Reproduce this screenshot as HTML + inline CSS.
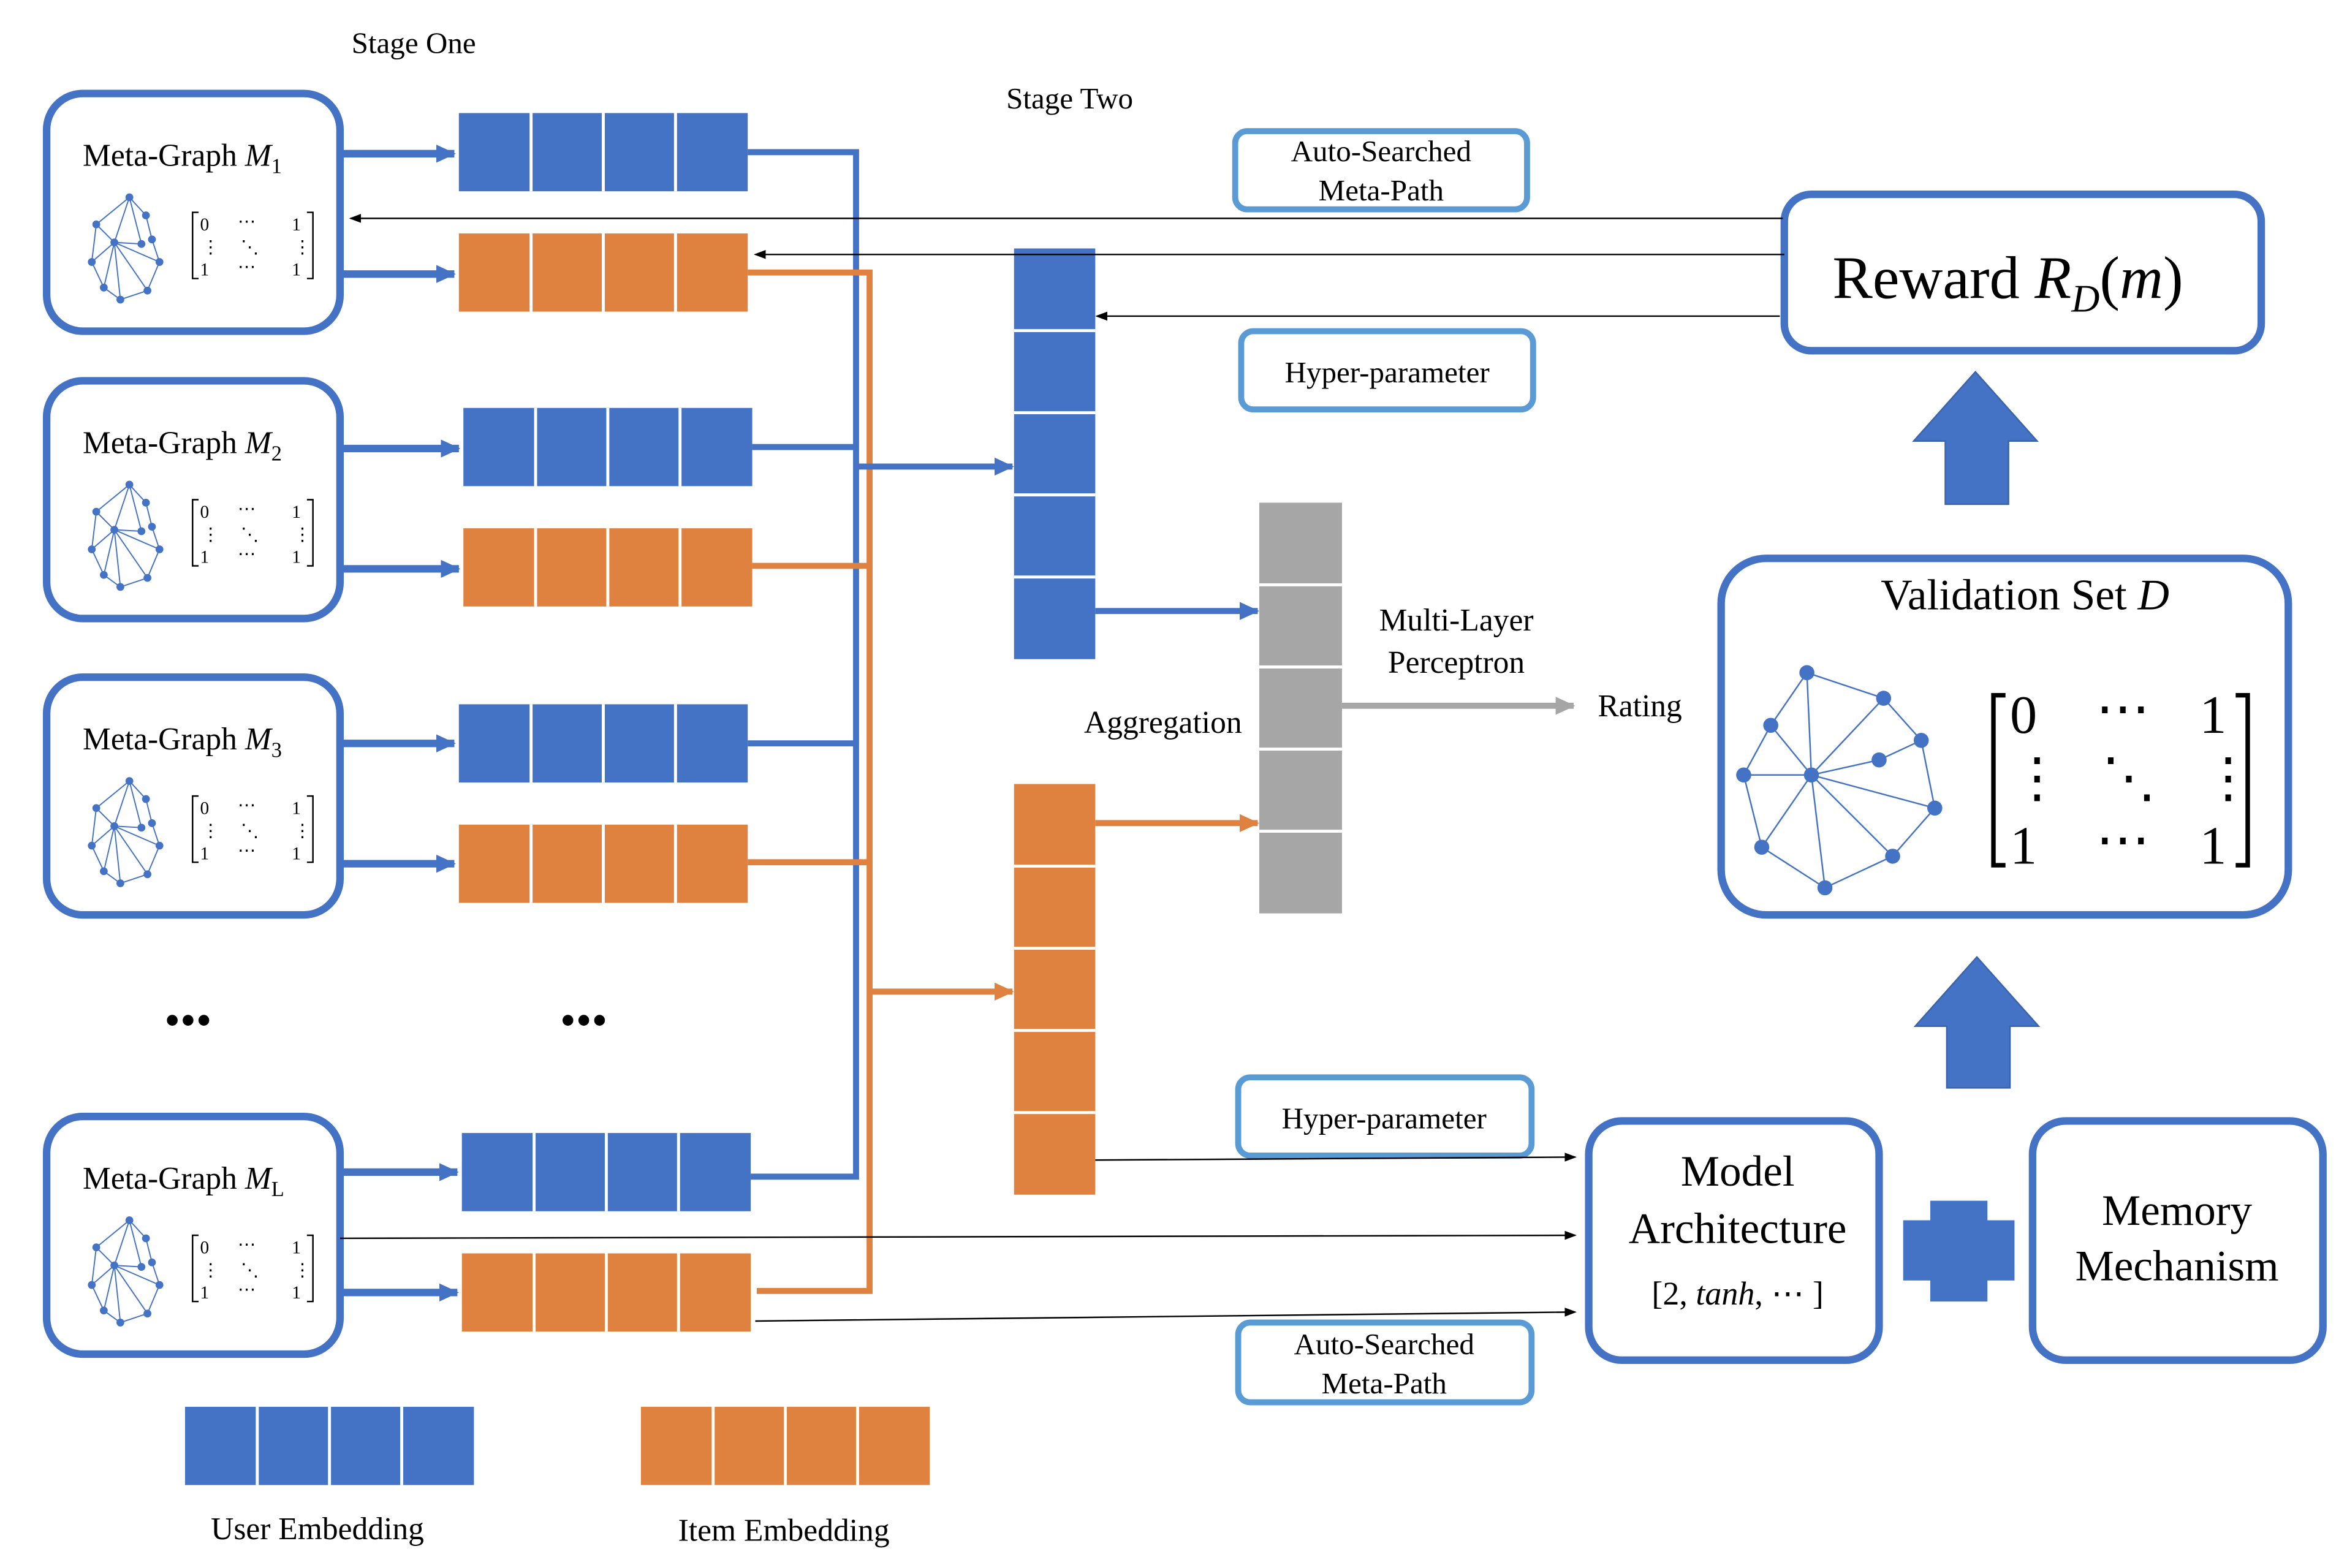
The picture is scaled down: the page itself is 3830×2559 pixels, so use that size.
<!DOCTYPE html>
<html><head><meta charset="utf-8"><style>
html,body{margin:0;padding:0;background:#fff}
svg{display:block}
text{font-family:"Liberation Serif",serif;fill:#000}
</style></head><body>
<svg width="3830" height="2559" viewBox="0 0 1560 1042" xmlns="http://www.w3.org/2000/svg">
<defs>
<marker id="ab" markerWidth="13" markerHeight="12" refX="12" refY="6" orient="auto" markerUnits="userSpaceOnUse"><path d="M0,0 L13,6 L0,12 Z" fill="#4472c4"/></marker>
<marker id="ao" markerWidth="13" markerHeight="12" refX="12" refY="6" orient="auto" markerUnits="userSpaceOnUse"><path d="M0,0 L13,6 L0,12 Z" fill="#e0823f"/></marker>
<marker id="ag" markerWidth="13" markerHeight="12" refX="12" refY="6" orient="auto" markerUnits="userSpaceOnUse"><path d="M0,0 L13,6 L0,12 Z" fill="#a6a6a6"/></marker>
<marker id="ak" markerWidth="8" markerHeight="6" refX="7" refY="3" orient="auto" markerUnits="userSpaceOnUse"><path d="M0,0 L8,3 L0,6 Z" fill="#000"/></marker>
<g id="gr" stroke="#4472c4" stroke-width="0.8" fill="#4472c4">
<path d="M22,0 L0,18 L-3,43 L5,60 L16,68 L34,62 L42,43 L37,28 L33,12 Z M22,0 L30,31 M0,18 L12,30 M12,30 L-3,43 M12,30 L22,0 M12,30 L30,31 M12,30 L42,43 M12,30 L16,68 M12,30 L34,62 M12,30 L5,60" fill="none"/>
<circle cx="22" cy="0" r="2.2"/><circle cx="0" cy="18" r="2.2"/><circle cx="-3" cy="43" r="2.2"/><circle cx="5" cy="60" r="2.2"/><circle cx="16" cy="68" r="2.2"/><circle cx="34" cy="62" r="2.2"/><circle cx="42" cy="43" r="2.2"/><circle cx="37" cy="28" r="2.2"/><circle cx="33" cy="12" r="2.2"/><circle cx="12" cy="30" r="2.2"/><circle cx="30" cy="31" r="2.2"/>
</g>
<g id="mx" font-size="12">
<path d="M4,0 L0,0 L0,44 L4,44 M76,0 L80,0 L80,44 L76,44" stroke="#000" fill="none" stroke-width="1"/>
<text x="5" y="12">0</text><text x="30" y="10">⋯</text><text x="66" y="12">1</text>
<text x="6" y="27">⋮</text><text x="32" y="27">⋱</text><text x="67" y="27">⋮</text>
<text x="5" y="42">1</text><text x="30" y="40">⋯</text><text x="66" y="42">1</text>
</g>
<g id="ub"><rect width="192" height="52" fill="#4472c4"/><path d="M48,0V52M96,0V52M144,0V52" stroke="#fff" stroke-width="2"/></g>
<g id="ob"><rect width="192" height="52" fill="#e0823f"/><path d="M48,0V52M96,0V52M144,0V52" stroke="#fff" stroke-width="2"/></g>
</defs>

<text x="275" y="35" font-size="20" text-anchor="middle">Stage One</text>
<text x="711" y="72" font-size="20" text-anchor="middle">Stage Two</text>

<g fill="none" stroke="#4472c4" stroke-width="5">
<rect x="31" y="62" width="195" height="158" rx="24"/>
<rect x="31" y="253" width="195" height="158" rx="24"/>
<rect x="31" y="450" width="195" height="158" rx="24"/>
<rect x="31" y="742" width="195" height="158" rx="24"/>
</g>
<text x="55" y="110" font-size="21">Meta-Graph <tspan font-style="italic">M</tspan><tspan font-size="14" dy="5">1</tspan></text>
<text x="55" y="301" font-size="21">Meta-Graph <tspan font-style="italic">M</tspan><tspan font-size="14" dy="5">2</tspan></text>
<text x="55" y="498" font-size="21">Meta-Graph <tspan font-style="italic">M</tspan><tspan font-size="14" dy="5">3</tspan></text>
<text x="55" y="790" font-size="21">Meta-Graph <tspan font-style="italic">M</tspan><tspan font-size="14" dy="5">L</tspan></text>
<use href="#gr" x="64" y="131"/><use href="#mx" x="128" y="141"/>
<use href="#gr" x="64" y="322"/><use href="#mx" x="128" y="332"/>
<use href="#gr" x="64" y="519"/><use href="#mx" x="128" y="529"/>
<use href="#gr" x="64" y="811"/><use href="#mx" x="128" y="821"/>

<g stroke="#4472c4" stroke-width="5" marker-end="url(#ab)">
<line x1="226" y1="102" x2="302" y2="102"/><line x1="226" y1="182" x2="302" y2="182"/>
<line x1="226" y1="298" x2="305" y2="298"/><line x1="226" y1="378" x2="305" y2="378"/>
<line x1="226" y1="494" x2="302" y2="494"/><line x1="226" y1="574" x2="302" y2="574"/>
<line x1="226" y1="779" x2="304" y2="779"/><line x1="226" y1="859" x2="304" y2="859"/>
</g>
<use href="#ub" x="305" y="75"/><use href="#ob" x="305" y="155"/>
<use href="#ub" x="308" y="271"/><use href="#ob" x="308" y="351"/>
<use href="#ub" x="305" y="468"/><use href="#ob" x="305" y="548"/>
<use href="#ub" x="307" y="753"/><use href="#ob" x="307" y="833"/>

<text x="125" y="688" font-size="30" text-anchor="middle">•••</text>
<text x="388" y="688" font-size="30" text-anchor="middle">•••</text>

<g fill="none" stroke="#4472c4" stroke-width="4">
<path d="M497,101 H569 V782 H499"/><path d="M500,297 H569"/><path d="M497,494 H569"/>
</g>
<g fill="none" stroke="#e0823f" stroke-width="4">
<path d="M497,181 H578 V858 H503"/><path d="M500,376 H578"/><path d="M497,573 H578"/>
</g>
<line x1="569" y1="310" x2="673" y2="310" stroke="#4472c4" stroke-width="4" marker-end="url(#ab)"/>
<line x1="578" y1="659" x2="673" y2="659" stroke="#e0823f" stroke-width="4" marker-end="url(#ao)"/>

<rect x="674" y="165" width="54" height="273" fill="#4472c4"/>
<path d="M674,219.6H728M674,274.2H728M674,328.8H728M674,383.4H728" stroke="#fff" stroke-width="2"/>
<rect x="674" y="521" width="54" height="273" fill="#e0823f"/>
<path d="M674,575.6H728M674,630.2H728M674,684.8H728M674,739.4H728" stroke="#fff" stroke-width="2"/>
<rect x="837" y="334" width="55" height="273" fill="#a6a6a6"/>
<path d="M837,388.6H892M837,443.2H892M837,497.8H892M837,552.4H892" stroke="#fff" stroke-width="2"/>
<line x1="728" y1="406" x2="836" y2="406" stroke="#4472c4" stroke-width="4" marker-end="url(#ab)"/>
<line x1="728" y1="547" x2="836" y2="547" stroke="#e0823f" stroke-width="4" marker-end="url(#ao)"/>
<line x1="892" y1="469" x2="1046" y2="469" stroke="#a6a6a6" stroke-width="4" marker-end="url(#ag)"/>
<text x="968" y="419" font-size="21" text-anchor="middle">Multi-Layer</text>
<text x="968" y="447" font-size="21" text-anchor="middle">Perceptron</text>
<text x="1090" y="476" font-size="21" text-anchor="middle">Rating</text>
<text x="773" y="487" font-size="21" text-anchor="middle">Aggregation</text>

<g fill="#fff" stroke="#5b9bd5" stroke-width="4">
<rect x="821" y="87" width="194" height="52" rx="8"/>
<rect x="825" y="220" width="194" height="52" rx="8"/>
<rect x="823" y="716" width="195" height="52" rx="8"/>
<rect x="823" y="879" width="195" height="53" rx="8"/>
</g>
<text x="918" y="107" font-size="20" text-anchor="middle">Auto-Searched</text>
<text x="918" y="133" font-size="20" text-anchor="middle">Meta-Path</text>
<text x="922" y="254" font-size="20" text-anchor="middle">Hyper-parameter</text>
<text x="920" y="750" font-size="20" text-anchor="middle">Hyper-parameter</text>
<text x="920" y="900" font-size="20" text-anchor="middle">Auto-Searched</text>
<text x="920" y="926" font-size="20" text-anchor="middle">Meta-Path</text>

<rect x="1186" y="129" width="317" height="104" rx="18" fill="none" stroke="#4472c4" stroke-width="5"/>
<text x="1218" y="198" font-size="40">Reward <tspan font-style="italic">R</tspan><tspan font-style="italic" font-size="26" dy="9">D</tspan><tspan dy="-9">(<tspan font-style="italic">m</tspan>)</tspan></text>
<g stroke="#000" stroke-width="1" marker-end="url(#ak)">
<line x1="1185" y1="145" x2="233" y2="145"/>
<line x1="1186" y1="169" x2="502" y2="169"/>
<line x1="1183" y1="210" x2="729" y2="210"/>
<line x1="728" y1="771" x2="1047" y2="769"/>
<line x1="226" y1="823" x2="1047" y2="821"/>
<line x1="502" y1="878" x2="1047" y2="872"/>
</g>

<path d="M1313,247 L1354,293 L1335,293 L1335,335 L1293,335 L1293,293 L1272,293 Z" fill="#4472c4" stroke="#3a63ab" stroke-width="1"/>
<path d="M1314,636 L1355,682 L1336,682 L1336,723 L1294,723 L1294,682 L1273,682 Z" fill="#4472c4" stroke="#3a63ab" stroke-width="1"/>

<rect x="1144" y="371" width="377" height="237" rx="30" fill="none" stroke="#4472c4" stroke-width="5"/>
<text x="1346" y="405" font-size="29" text-anchor="middle">Validation Set <tspan font-style="italic">D</tspan></text>
<g stroke="#4472c4" stroke-width="1" fill="none">
<path d="M1201,447 L1177,482 L1159,515 L1171,563 L1213,590 L1258,569 L1286,537 L1277,492 L1252,464 Z M1201,447 L1204,515 M1177,482 L1204,515 M1159,515 L1204,515 M1204,515 L1171,563 M1204,515 L1213,590 M1204,515 L1258,569 M1204,515 L1286,537 M1204,515 L1249,505 M1204,515 L1252,464 M1249,505 L1277,492"/>
</g>
<g fill="#4472c4">
<circle cx="1201" cy="447" r="5"/><circle cx="1177" cy="482" r="5"/><circle cx="1159" cy="515" r="5"/><circle cx="1171" cy="563" r="5"/><circle cx="1213" cy="590" r="5"/><circle cx="1258" cy="569" r="5"/><circle cx="1286" cy="537" r="5"/><circle cx="1277" cy="492" r="5"/><circle cx="1252" cy="464" r="5"/><circle cx="1204" cy="515" r="5"/><circle cx="1249" cy="505" r="5"/>
</g>
<path d="M1333,462 H1325 V575 H1333 M1486,462 H1494 V575 H1486" stroke="#000" stroke-width="3" fill="none"/>
<g font-size="36">
<text x="1336" y="487">0</text><text x="1393" y="483">⋯</text><text x="1462" y="487">1</text>
<text x="1336" y="529">⋮</text><text x="1397" y="529">⋱</text><text x="1463" y="529">⋮</text>
<text x="1336" y="574">1</text><text x="1393" y="570">⋯</text><text x="1462" y="574">1</text>
</g>

<rect x="1056" y="745" width="193" height="159" rx="22" fill="none" stroke="#4472c4" stroke-width="5"/>
<rect x="1351" y="745" width="193" height="159" rx="22" fill="none" stroke="#4472c4" stroke-width="5"/>
<text x="1155" y="788" font-size="29" text-anchor="middle">Model</text>
<text x="1155" y="826" font-size="29" text-anchor="middle">Architecture</text>
<text x="1155" y="867" font-size="22" text-anchor="middle">[2, <tspan font-style="italic">tanh</tspan>, ⋯ ]</text>
<text x="1447" y="814" font-size="29" text-anchor="middle">Memory</text>
<text x="1447" y="851" font-size="29" text-anchor="middle">Mechanism</text>
<path d="M1283,798 H1321 V811 H1339 V851 H1321 V865 H1283 V851 H1265 V811 H1283 Z" fill="#4472c4"/>

<use href="#ub" x="123" y="935"/><use href="#ob" x="426" y="935"/>
<text x="211" y="1023" font-size="21" text-anchor="middle">User Embedding</text>
<text x="521" y="1024" font-size="21" text-anchor="middle">Item Embedding</text>
</svg>
</body></html>
